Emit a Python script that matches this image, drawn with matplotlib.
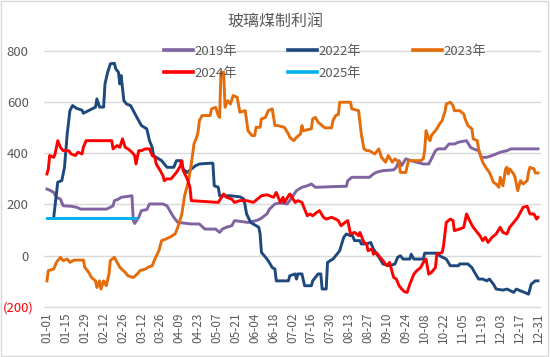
import matplotlib
matplotlib.use("Agg")
import matplotlib.pyplot as plt
import matplotlib.patches as patches
from matplotlib.transforms import ScaledTranslation

plt.rcParams['font.family'] = ['Noto Sans CJK SC', 'DejaVu Sans']

title = "玻璃煤制利润"

# x axis: day index (0 = 01-01 ... 364 = 12-31)
tick_days = list(range(0, 365, 14))
tick_labels = ["01-01", "01-15", "01-29", "02-12", "02-26", "03-12", "03-26", "04-09",
               "04-23", "05-07", "05-21", "06-04", "06-18", "07-02", "07-16", "07-30",
               "08-13", "08-27", "09-10", "09-24", "10-08", "10-22", "11-05", "11-19",
               "12-03", "12-17", "12-31"]
y_ticks = [800, 600, 400, 200, 0, -200]
y_tick_labels = ["800", "600", "400", "200", "0", "(200)"]

s2019 = [(0, 260), (2, 256), (5, 247), (7, 228), (10, 221), (12, 195), (18, 193), (22, 189),
         (25, 182), (44, 182), (47, 189), (49, 195), (50, 215), (53, 221), (55, 228), (63, 234),
         (64, 137), (65, 126), (68, 150), (70, 176), (74, 180), (76, 202), (86, 202), (89, 195),
         (91, 176), (94, 150), (97, 130), (107, 124), (113, 124), (117, 104), (125, 104),
         (128, 91), (130, 104), (133, 111), (137, 117), (139, 137), (149, 130), (155, 137),
         (158, 143), (163, 163), (165, 182), (169, 202), (173, 206), (178, 202), (180, 215),
         (185, 254), (189, 267), (193, 273), (196, 280), (199, 267), (214, 270), (222, 271),
         (223, 293), (226, 306), (239, 306), (242, 319), (244, 325), (249, 332), (257, 335),
         (259, 345), (261, 371), (263, 352), (266, 378), (270, 371), (274, 365), (279, 358),
         (283, 358), (285, 378), (288, 410), (290, 417), (295, 417), (298, 436), (302, 436),
         (305, 443), (311, 449), (314, 423), (316, 417), (320, 410), (322, 384), (326, 384),
         (330, 391), (333, 397), (336, 404), (341, 410), (344, 417), (364, 417)]

s2022 = [(5, 150), (8, 287), (11, 293), (13, 345), (15, 475), (17, 566), (19, 586), (22, 575),
         (26, 568), (27, 556), (36, 580), (37, 612), (39, 580), (42, 580), (43, 670), (45, 716),
         (47, 749), (50, 751), (51, 729), (53, 716), (54, 670), (55, 703), (57, 605), (59, 592),
         (62, 586), (64, 566), (68, 527), (70, 508), (74, 495), (76, 449), (78, 423), (79, 391),
         (81, 384), (85, 371), (89, 345), (94, 345), (96, 371), (99, 371), (101, 338), (104, 325),
         (107, 338), (110, 351), (113, 358), (121, 361), (123, 361), (124, 273), (127, 267),
         (128, 234), (136, 234), (143, 230), (146, 221), (148, 163), (151, 130), (157, 111),
         (158, 85), (159, 13), (162, -6), (164, -19), (167, -46), (169, -52), (170, -98),
         (179, -98), (180, -78), (184, -71), (185, -91), (186, -71), (189, -71), (191, -117),
         (196, -117), (197, -98), (201, -71), (203, -71), (204, -130), (207, -130), (208, -26),
         (210, -19), (212, -13), (215, 6), (217, 20), (220, 72), (222, 85), (225, 78), (226, 85),
         (228, 59), (232, 59), (233, 46), (237, 46), (240, 52), (242, 26), (247, -13), (249, -32),
         (254, -39), (258, -32), (260, -6), (262, 0), (264, -13), (269, -13), (270, 6), (272, -13),
         (279, -13), (280, 10), (290, 10), (291, 0), (296, -13), (299, -39), (305, -39),
         (306, -32), (312, -32), (315, -46), (317, -65), (320, -91), (323, -91), (326, -98),
         (328, -91), (331, -111), (333, -130), (338, -134), (341, -130), (346, -143), (348, -130),
         (351, -137), (354, -143), (357, -150), (359, -111), (362, -98), (364, -98)]

s2023 = [(0, -98), (1, -58), (5, -52), (7, -26), (8, -19), (10, -6), (12, -19), (15, -13),
         (17, -26), (20, -17), (27, -17), (28, -45), (31, -65), (33, -85), (36, -98), (37, -124),
         (39, -98), (40, -130), (42, -98), (44, -117), (46, -71), (47, -19), (50, -6), (52, -26),
         (54, -45), (58, -65), (60, -78), (64, -85), (67, -71), (69, -58), (73, -52), (75, -45),
         (78, -39), (80, -13), (83, 20), (85, 59), (88, 65), (91, 72), (95, 85), (97, 111),
         (100, 163), (102, 234), (105, 293), (107, 358), (109, 436), (111, 462), (112, 482),
         (113, 527), (115, 547), (121, 547), (122, 573), (125, 579), (127, 547), (128, 540),
         (129, 716), (131, 716), (132, 579), (134, 605), (136, 592), (138, 625), (141, 618),
         (143, 560), (147, 566), (148, 527), (149, 488), (152, 469), (154, 469), (155, 501),
         (158, 501), (159, 534), (162, 540), (164, 566), (167, 573), (169, 508), (171, 508),
         (176, 501), (179, 475), (180, 462), (183, 449), (185, 462), (188, 475), (189, 508),
         (190, 488), (196, 495), (197, 534), (199, 540), (201, 521), (204, 508), (206, 499),
         (211, 499), (212, 527), (214, 547), (216, 551), (217, 599), (225, 599), (226, 573),
         (231, 566), (232, 521), (233, 475), (235, 417), (237, 410), (239, 410), (243, 397),
         (246, 417), (248, 384), (251, 365), (253, 391), (256, 365), (258, 378), (261, 365),
         (262, 325), (266, 325), (268, 371), (277, 371), (279, 378), (280, 410), (281, 488),
         (283, 456), (284, 449), (285, 469), (288, 488), (289, 495), (291, 514), (293, 527),
         (294, 547), (295, 560), (296, 592), (299, 599), (301, 586), (302, 566), (306, 566),
         (309, 553), (310, 534), (312, 508), (315, 495), (316, 456), (319, 449), (320, 417),
         (321, 397), (323, 365), (326, 339), (328, 325), (330, 300), (331, 286), (333, 280),
         (335, 267), (336, 306), (338, 273), (340, 339), (341, 345), (342, 319), (343, 339),
         (346, 319), (347, 306), (349, 254), (351, 293), (353, 280), (356, 293), (357, 325),
         (358, 345), (361, 339), (362, 323), (364, 323)]

s2024 = [(0, 319), (1, 338), (2, 391), (5, 384), (6, 397), (7, 423), (8, 449), (10, 423),
         (12, 410), (16, 410), (18, 397), (21, 391), (23, 404), (26, 397), (27, 423), (29, 449),
         (48, 449), (49, 417), (52, 430), (54, 423), (56, 456), (58, 423), (60, 417), (63, 404),
         (65, 391), (66, 358), (68, 410), (70, 410), (73, 417), (76, 417), (78, 391), (80, 384),
         (81, 358), (84, 332), (86, 312), (87, 293), (89, 300), (92, 300), (96, 325), (99, 351),
         (100, 371), (101, 332), (104, 300), (106, 267), (107, 215), (127, 208), (131, 241),
         (133, 228), (137, 221), (139, 208), (143, 215), (148, 215), (153, 208), (159, 234),
         (163, 238), (168, 228), (170, 247), (173, 208), (175, 228), (176, 208), (180, 241),
         (181, 234), (184, 208), (186, 215), (189, 208), (191, 182), (193, 156), (195, 163),
         (197, 156), (200, 169), (202, 176), (205, 150), (207, 143), (211, 150), (214, 143),
         (216, 137), (218, 117), (221, 130), (223, 137), (225, 85), (228, 91), (231, 78),
         (232, 91), (235, 52), (237, 46), (238, 20), (241, 26), (242, 6), (244, 13), (247, -6),
         (249, -19), (252, -39), (254, -26), (257, -85), (259, -91), (261, -117), (263, -130),
         (265, -140), (267, -143), (269, -111), (272, -72), (274, -59), (277, -46), (279, -26),
         (281, -13), (283, -72), (285, -65), (288, -46), (289, 6), (293, 13), (294, 39),
         (296, 130), (299, 143), (301, 137), (302, 98), (306, 104), (309, 111), (311, 163),
         (314, 130), (316, 111), (319, 91), (321, 78), (323, 59), (325, 72), (327, 52), (330, 72),
         (333, 85), (336, 111), (338, 91), (341, 85), (343, 111), (346, 130), (349, 150),
         (353, 189), (356, 193), (358, 163), (361, 163), (363, 143), (364, 150)]

s2025 = [(0, 148), (66, 148)]

series = [("2019年", s2019, "#8064A2"),
          ("2022年", s2022, "#1F497D"),
          ("2023年", s2023, "#E46C0A"),
          ("2024年", s2024, "#FF0000"),
          ("2025年", s2025, "#00B0F0")]

grey = "#595959"

fig = plt.figure(figsize=(5.5, 3.57), dpi=100)
fig.patch.set_facecolor("white")
fig.patches.append(patches.Rectangle((0.002, 0.003), 0.995, 0.994, transform=fig.transFigure,
                                     fill=False, edgecolor="#D9D9D9", linewidth=1.0))

ax = fig.add_axes([44 / 550, 1 - 307 / 357, 496 / 550, (307 - 50.7) / 357])

handles = {}
for name, data, color in series:
    xs = [p[0] for p in data]
    ys = [p[1] for p in data]
    ln, = ax.plot(xs, ys, color=color, linewidth=2.1, solid_joinstyle="round", label=name)
    handles[name] = ln

ax.set_xlim(-2.2, 365.5)
ax.set_ylim(-200, 800)
ax.set_yticks(y_ticks)
ax.set_yticklabels(y_tick_labels)
ax.set_xticks(tick_days)
ax.set_xticklabels(tick_labels, rotation=90)
ax.tick_params(axis="y", length=0, pad=11, labelsize=9.5, labelcolor=grey)
ax.tick_params(axis="x", length=0, pad=4, labelsize=8.5, labelcolor=grey)
for lbl in ax.get_yticklabels():
    if lbl.get_text().startswith("("):
        lbl.set_color("#FF0000")
        lbl.set_transform(lbl.get_transform() + ScaledTranslation(3.5 / 72, 0, fig.dpi_scale_trans))

for s in ax.spines.values():
    s.set_visible(False)
ax.yaxis.grid(True, color="#D9D9D9", linewidth=1.0)
for gl in ax.yaxis.get_gridlines():
    gl.set_clip_on(False)
ax.set_axisbelow(True)

fig.text(0.5, 1 - 22 / 357, title, ha="center", va="center", fontsize=11.5, color=grey)

order = ["2019年", "2024年", "2022年", "2025年", "2023年"]
leg = fig.legend([handles[n] for n in order], order, ncol=3, loc="upper left",
                 bbox_to_anchor=(164 / 550, 1 - 45 / 357), frameon=False, fontsize=9.5,
                 handlelength=2.2, handletextpad=0.1, columnspacing=3.9, labelspacing=0.68,
                 borderpad=0, borderaxespad=0)
for t in leg.get_texts():
    t.set_color(grey)
for l in leg.get_lines():
    l.set_linewidth(2.6)

fig.savefig("out.png", dpi=100)
